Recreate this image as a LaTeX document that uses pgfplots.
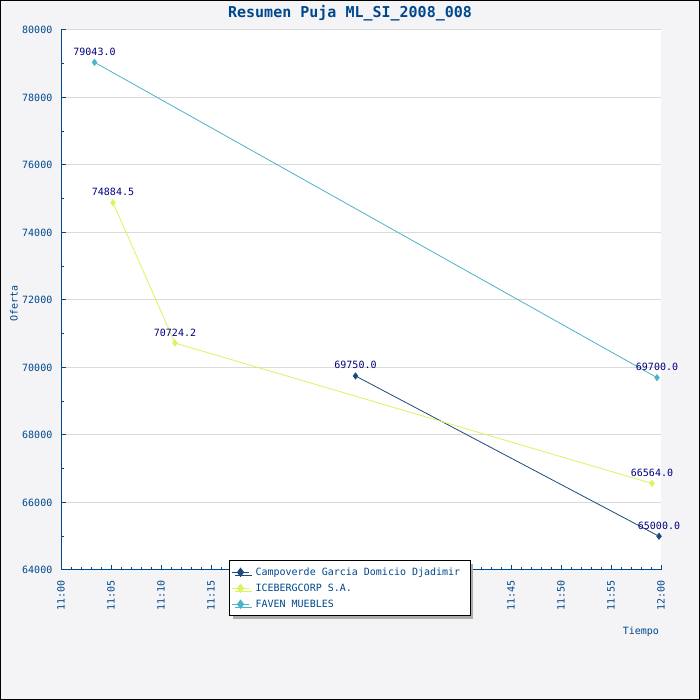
\documentclass[border=0pt]{standalone}
\usepackage{fontspec}
\setmainfont{DejaVu Sans Mono}
\setmonofont{DejaVu Sans Mono}
\usepackage{pgfplots}
\pgfplotsset{compat=1.18}
\usetikzlibrary{shadows}
\definecolor{bgc}{RGB}{244,244,246}
\definecolor{tickblue}{RGB}{0,72,140}
\definecolor{valblue}{RGB}{0,0,128}
\definecolor{camp}{RGB}{28,74,124}
\definecolor{ice}{RGB}{216,245,92}
\definecolor{faven}{RGB}{77,180,200}
\definecolor{gridc}{RGB}{218,218,218}
\begin{document}
\begin{tikzpicture}
\useasboundingbox (0,0) rectangle (700pt,700pt);
\fill[bgc] (0,0) rectangle (700pt,700pt);
\draw[black,line width=1pt] (0.5pt,0.5pt) rectangle (699.5pt,699.5pt);
\begin{axis}[
  at={(61pt,130pt)}, anchor=south west,
  scale only axis, width=600pt, height=540pt,
  xmin=0, xmax=60, ymin=64000, ymax=80000,
  axis background/.style={fill=white},
  axis x line*=bottom, axis y line*=left,
  axis line style={tickblue, line width=1pt, -},
  every tick/.style={tickblue, line width=1pt},
  major tick length=5pt, minor tick length=3pt,
  tick align=inside,
  xtick={0,5,...,60}, minor x tick num=4,
  xticklabels={11:00,11:05,11:10,11:15,11:20,11:25,11:30,11:35,11:40,11:45,11:50,11:55,12:00},
  ytick={64000,66000,...,80000}, minor y tick num=1,
  scaled y ticks=false,
  ymajorgrids, major grid style={gridc, line width=1pt},
  /pgf/number format/assume math mode=true,
  /pgf/number format/1000 sep={},
  yticklabel style={font=\fontsize{10}{12}\selectfont, text=tickblue, inner sep=0pt, anchor=east},
  xticklabel style={font=\fontsize{10}{12}\selectfont, text=tickblue, inner sep=0pt, anchor=east, rotate=90},
  yticklabel shift=8.5pt, xticklabel shift=10pt,
  title={Resumen Puja ML\_SI\_2008\_008},
  title style={at={(axis description cs:0.4817,1)}, anchor=base, yshift=6.7pt, inner sep=0pt, font=\fontsize{15}{17}\selectfont\bfseries, text=tickblue},
  ylabel={Oferta},
  ylabel style={at={(axis description cs:-0.0717,0.494)}, anchor=south, font=\fontsize{10}{12}\selectfont, text=tickblue, inner sep=0pt},
  xlabel={Tiempo},
  xlabel style={at={(axis description cs:0.997,0)}, anchor=north east, yshift=-57pt, font=\fontsize{10}{12}\selectfont, text=tickblue, inner sep=0pt},
  legend style={at={(axis description cs:0.28,0.018)}, anchor=north west, draw=black, line width=1pt, fill=white,
    font=\fontsize{10}{12}\selectfont, text=tickblue, inner xsep=2pt, inner ysep=5pt, row sep=3pt, column sep=4pt,
    drop shadow={shadow xshift=3pt, shadow yshift=-3pt, fill=gray!65, opacity=1}},
  legend image post style={mark size=4pt, line width=1pt},
  legend cell align=left,
  point meta=explicit symbolic,
  nodes near coords,
  every node near coord/.append style={anchor=south, inner sep=0pt, yshift=6.5pt, font=\fontsize{10}{12}\selectfont, text=valblue},
  every axis plot/.append style={line width=0.8pt, mark=diamond*, mark size=3pt},
]
\addplot[camp, mark options={fill=camp}] coordinates {(29.45,69750) [69750.0] (59.8,65000) [65000.0]};
\addlegendentry{Campoverde Garcia Domicio Djadimir\hspace*{6pt}}
\addplot[ice, mark options={fill=ice}] coordinates {(5.2,74884.5) [74884.5] (11.4,70724.2) [70724.2] (59.1,66564) [66564.0]};
\addlegendentry{ICEBERGCORP S.A.}
\addplot[faven, mark options={fill=faven}] coordinates {(3.35,79043) [79043.0] (59.6,69700) [69700.0]};
\addlegendentry{FAVEN MUEBLES}
\end{axis}
\end{tikzpicture}
\end{document}
